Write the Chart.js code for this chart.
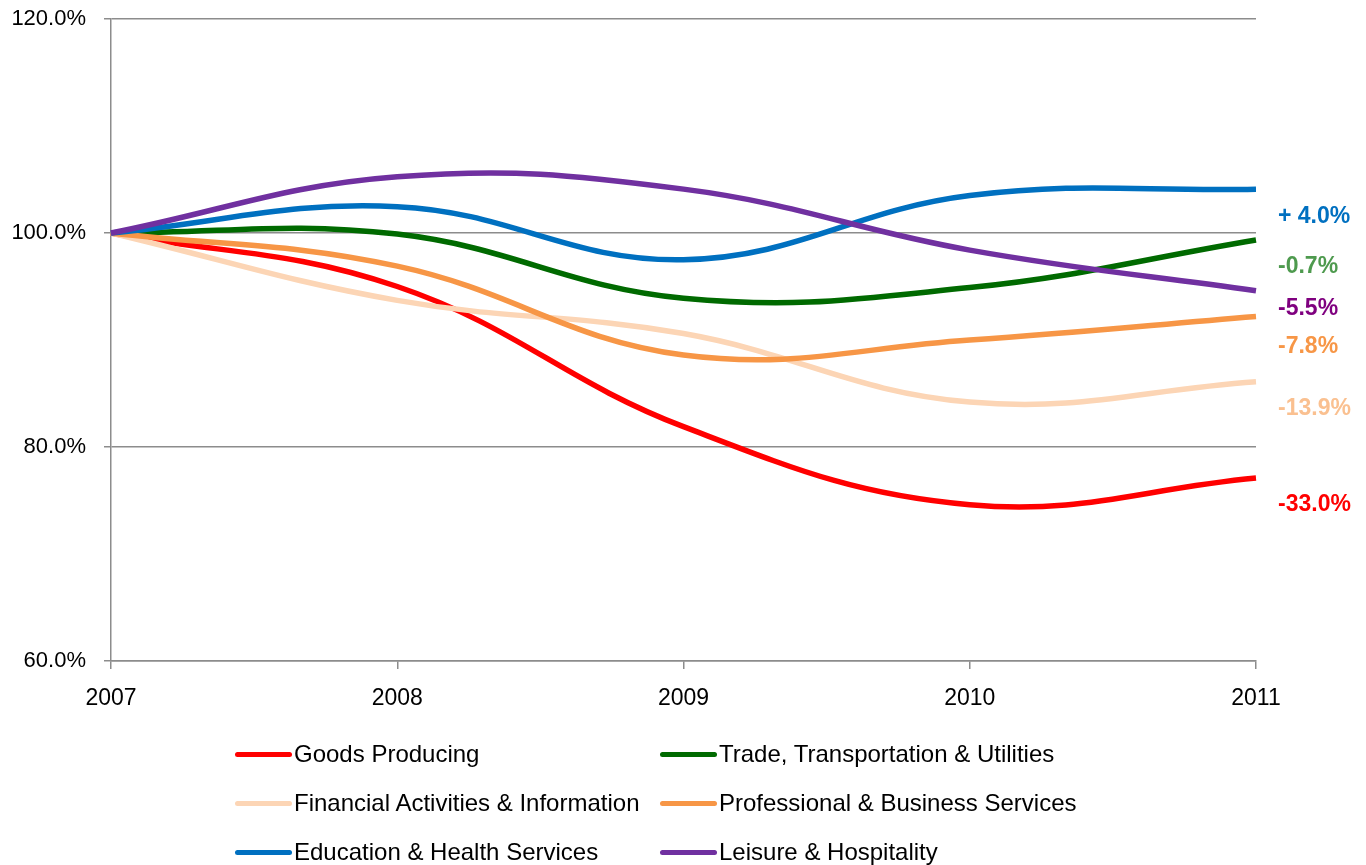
<!DOCTYPE html>
<html>
<head>
<meta charset="utf-8">
<script src="https://cdn.jsdelivr.net/npm/chart.js@4.4.0/dist/chart.umd.min.js"></script>
<style>
  html, body { margin: 0; padding: 0; background: #ffffff; }
  #wrap { position: relative; width: 1366px; height: 865px; }
  canvas { position: absolute; left: 0; top: 0; }
  #legend { position: absolute; left: 0; top: 0; width: 1366px; height: 865px; pointer-events: none; }
  .item { position: absolute; height: 30px; display: flex; align-items: center; white-space: nowrap;
          font-family: "Liberation Sans", Arial, sans-serif; font-size: 24px; color: #000; }
  .swatch { width: 57px; height: 5px; border-radius: 3px; margin-right: 2px; }
</style>
</head>
<body>
<div id="wrap">
  <canvas id="c" width="1366" height="865"></canvas>
  <div id="legend"></div>
</div>
<script>
// ---- data ----
const years = ["2007", "2008", "2009", "2010", "2011"];
const seriesNames = [
  "Goods Producing",
  "Trade, Transportation & Utilities",
  "Financial Activities & Information",
  "Professional & Business Services",
  "Education & Health Services",
  "Leisure & Hospitality"
];
const goodsProducing   = [100, 95.0, 81.9, 74.6, 77.1];
const tradeTransport   = [100, 99.9, 93.9, 94.9, 99.35];
const financialInfo    = [100, 93.7, 90.6, 84.2, 86.1];
const professionalBiz  = [100, 96.9, 88.6, 90.0, 92.2];
const educationHealth  = [100, 102.46, 97.5, 103.5, 104.1];
const leisureHosp      = [100, 105.26, 104.1, 98.4, 94.6];
const endLabels        = ["-33.0%", "-0.7%", "-13.9%", "-7.8%", "+ 4.0%", "-5.5%"];
const endLabelAnchors  = [74.6, 96.9, 83.55, 89.35, 101.5, 92.9];
const yTicks           = [60, 80, 100, 120];

const lineColors  = ["#FF0000", "#006A00", "#FCD5B5", "#F79646", "#0070C0", "#7030A0"];
const labelColors = ["#FF0000", "#4E9A4E", "#FAC090", "#F79646", "#0070C0", "#7F007F"];
const allSeries = [goodsProducing, tradeTransport, financialInfo, professionalBiz, educationHealth, leisureHosp];

const datasets = allSeries.map((d, i) => ({
  label: seriesNames[i],
  data: d,
  borderColor: lineColors[i],
  backgroundColor: lineColors[i],
  borderWidth: 5.5,
  tension: 0.4,
  pointRadius: 0,
  fill: false,
  order: 6 - i
}));

const endLabelPlugin = {
  id: "endLabels",
  afterDatasetsDraw(chart) {
    const ctx = chart.ctx;
    const y = chart.scales.y;
    const x0 = chart.chartArea.right + 22;
    ctx.save();
    ctx.font = "bold 23px 'Liberation Sans', Arial, sans-serif";
    ctx.textAlign = "left";
    ctx.textBaseline = "middle";
    endLabels.forEach((t, i) => {
      ctx.fillStyle = labelColors[i];
      ctx.fillText(t, x0, y.getPixelForValue(endLabelAnchors[i]));
    });
    ctx.restore();
  }
};

const chart = new Chart(document.getElementById("c"), {
  type: "line",
  data: { labels: years, datasets },
  options: {
    responsive: false,
    animation: false,
    devicePixelRatio: 1,
    layout: { padding: { top: 19, right: 110, bottom: 0, left: 0 } },
    plugins: { legend: { display: false }, tooltip: { enabled: false } },
    scales: {
      x: {
        offset: false,
        grid: { drawOnChartArea: false, drawTicks: true, tickLength: 8, color: "#8C8C8C", lineWidth: 1.5 },
        border: { display: true, color: "#8C8C8C", width: 1.5 },
        ticks: { color: "#000", padding: 16, maxRotation: 0,
                 font: { family: "'Liberation Sans', Arial, sans-serif", size: 23 } },
        afterFit(s) { s.height = 204; s.paddingLeft = 0; s.paddingRight = 0; }
      },
      y: {
        min: 60, max: 120,
        afterBuildTicks(s) { s.ticks = yTicks.map(v => ({ value: v })); },
        grid: { color: "#8C8C8C", lineWidth: 1.5, tickLength: 7, drawTicks: true },
        border: { display: true, color: "#8C8C8C", width: 1.5 },
        ticks: { color: "#000", padding: 18,
                 callback: v => v.toFixed(1) + "%",
                 font: { family: "'Liberation Sans', Arial, sans-serif", size: 22 } },
        afterFit(s) { s.width = 111; s.paddingTop = 0; s.paddingBottom = 0; }
      }
    }
  },
  plugins: [endLabelPlugin]
});

// HTML legend in two columns
const legendPos = [
  [235, 754], [660, 754],
  [235, 803], [660, 803],
  [235, 852], [660, 852]
];
const lg = document.getElementById("legend");
chart.data.datasets.forEach((ds, i) => {
  const it = document.createElement("div");
  it.className = "item";
  it.style.left = legendPos[i][0] + "px";
  it.style.top = (legendPos[i][1] - 15) + "px";
  const sw = document.createElement("div");
  sw.className = "swatch";
  sw.style.background = ds.borderColor;
  const tx = document.createElement("span");
  tx.textContent = ds.label;
  it.appendChild(sw); it.appendChild(tx);
  lg.appendChild(it);
});
</script>
</body>
</html>
